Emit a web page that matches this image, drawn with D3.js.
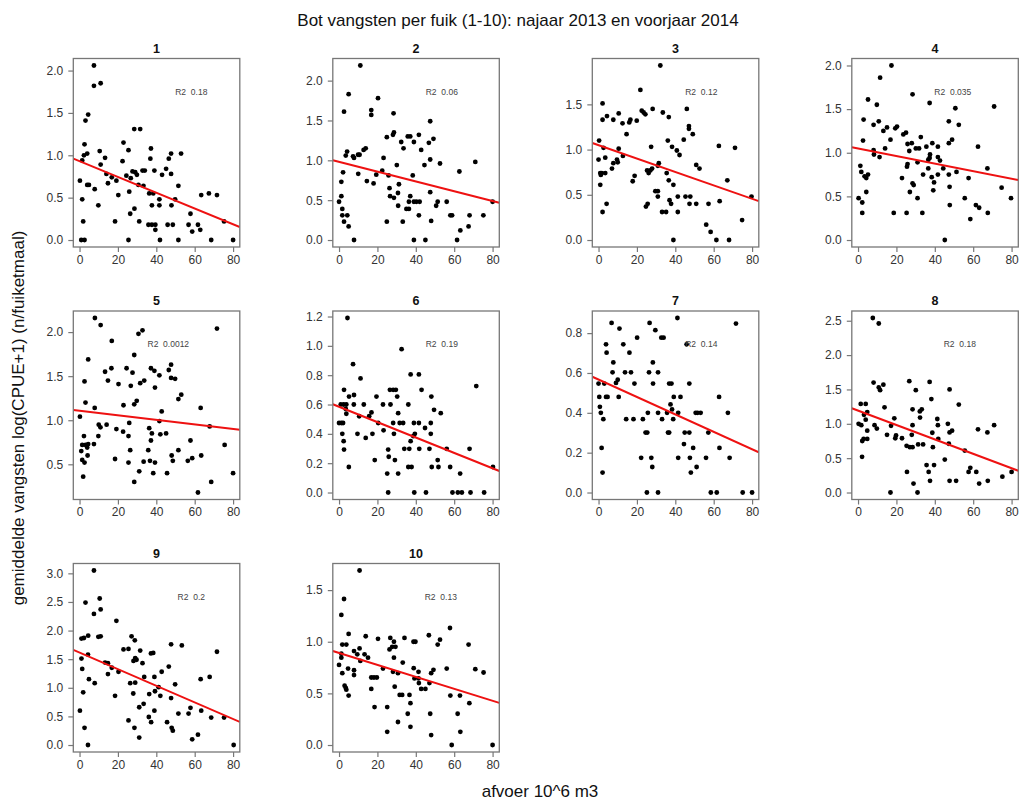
<!DOCTYPE html>
<html><head><meta charset="utf-8">
<script src="https://cdn.jsdelivr.net/npm/d3@7"></script>
<style>
html,body{margin:0;padding:0;background:#fff;}
text{font-family:"Liberation Sans",Arial,sans-serif;}
</style></head>
<body>
<svg id="chart" width="1019" height="803"></svg>
<script>
// ---------- DATA ----------
const fuikNames = ["1","2","3","4","5","6","7","8","9","10"];
const r2Labels = ["0.18","0.06","0.12","0.035","0.0012","0.19","0.14","0.18","0.2","0.13"];
const fitIntercepts = [0.93, 0.98, 1.048, 1.049, 1.107, 0.585, 0.567, 1.193, 1.615, 0.892];
const fitSlopes = [-0.0093, -0.00615, -0.0074, -0.00432, -0.00259, -0.00525, -0.00437, -0.0105, -0.0145, -0.0058];
const xTicks = [0, 20, 40, 60, 80];
const yTicks1 = [0, 0.5, 1.0, 1.5, 2.0];
const yTicks2 = [0, 0.5, 1.0, 1.5, 2.0];
const yTicks3 = [0, 0.5, 1.0, 1.5];
const yTicks4 = [0, 0.5, 1.0, 1.5, 2.0];
const yTicks5 = [0.5, 1.0, 1.5, 2.0];
const yTicks6 = [0, 0.2, 0.4, 0.6, 0.8, 1.0, 1.2];
const yTicks7 = [0, 0.2, 0.4, 0.6, 0.8];
const yTicks8 = [0, 0.5, 1.0, 1.5, 2.0, 2.5];
const yTicks9 = [0, 0.5, 1.0, 1.5, 2.0, 2.5, 3.0];
const yTicks10 = [0, 0.5, 1.0, 1.5];

const fuik1 = [[7.5,2.06],[7.5,1.82],[11,1.85],[4.5,1.48],[3.1,1.41],[2.6,1.13],[4,1.02],[2.3,1.0],[1.4,0.94],[10.5,1.05],[11,0.89],[13.3,0.97],[0.2,0.70],[4,0.65],[4.9,0.65],[7.9,0.60],[1.4,0.48],[9.8,0.41],[1.9,0.22],[0.9,0],[2.6,0],[14.8,0.67],[14,0.78],[16.8,0.74],[19.2,0.70],[20.2,0.53],[18.5,0.22],[22.9,1.15],[22.4,0.93],[25.5,1.06],[24.4,0.76],[25.9,0.57],[26.4,0.31],[25.5,0],[28.5,1.31],[31.6,1.31],[27.6,0.81],[29,0.80],[29.9,0.77],[26.7,0.73],[30.7,0.65],[28.6,0.37],[31.1,0.22],[32.8,0.82],[34,0.82],[33.3,0.64],[37.2,1.08],[36.9,0.96],[36.3,0.55],[38.4,0.55],[39,0.82],[37.7,0.41],[35.9,0.18],[37.7,0.18],[39.5,0.18],[39.5,0.12],[41.9,0],[41.6,0.41],[41.6,0.48],[43,0.77],[45.1,0.84],[46.5,0.96],[47.7,1.02],[47.7,0.78],[47.9,0.41],[45.9,0.18],[48.6,0.18],[49.8,0.48],[51.5,0.64],[52.9,1.02],[51.5,0],[57.8,0.31],[56.8,0.18],[58.7,0.10],[61.7,0.18],[62.9,0.12],[63.4,0.53],[67.4,0.55],[71.6,0.53],[68.6,0],[75.3,0.22],[80,0]];
const fuik2 = [[11.1,2.19],[5.0,1.83],[2.6,1.61],[20.3,1.78],[16.8,1.63],[16.8,1.57],[28.4,1.59],[4.2,1.11],[3.5,1.06],[7.3,1.05],[7.8,1.03],[9.9,1.07],[10.7,1.07],[12.8,1.13],[13.9,1.15],[2.1,0.85],[1.2,0.73],[1.2,0.55],[0,0.48],[1.7,0.39],[1.7,0.31],[4.3,0.31],[2.6,0.23],[5.0,0.17],[7.8,0],[10.0,0.83],[14.5,0.74],[18,0.71],[19.4,0.82],[23.2,1.03],[24.9,1.29],[28.1,1.32],[28.6,1.35],[22.5,0.87],[25.8,0.81],[30.1,0.94],[26.3,0.65],[26.6,0.55],[28.6,0.53],[24.9,0.23],[31.2,0.70],[30.7,0.59],[30.8,0.43],[32.4,1.23],[33.6,1.15],[33.2,0.23],[35.8,1.30],[37.1,1.30],[39,1.23],[41.6,1.32],[42.8,1.13],[38.4,0.81],[37.1,0.55],[36.4,0.48],[35.1,0.39],[36.4,0.39],[39.0,0.48],[40.3,0.48],[42.0,0.48],[41.6,0.31],[39.0,0],[45,0],[44.5,0.94],[46.8,1.22],[47.5,1.49],[49.2,1.27],[47.5,1.01],[47.5,0.60],[48.0,0.24],[50.6,0.43],[51.4,0.48],[52.6,0.96],[56.1,0.48],[58,0.31],[58.9,0.31],[62.7,0.86],[61.5,0],[63.2,0.12],[67.5,0.17],[68,0.31],[71,0.98],[75.2,0.31],[80,0.48]];
const fuik3 = [[32.2,1.93],[21.8,1.66],[2.1,1.51],[2.1,1.33],[4.4,1.37],[10.5,1.40],[7.7,1.33],[12.5,1.29],[14.6,1.17],[16,1.30],[16.6,1.33],[19.9,1.32],[22.5,1.43],[23.5,1.41],[24.4,1.39],[28.2,1.45],[33.5,1.41],[36.6,1.36],[0.3,1.10],[0,0.89],[0.9,0.74],[1.2,0.72],[1.7,0.74],[0.9,0.61],[3.5,0.91],[3.5,0.74],[2.6,1.02],[4.2,0.40],[2.1,0.31],[7.7,0.85],[7.0,0.79],[9.6,0.89],[10,0.86],[10.5,1.01],[12.7,0.93],[17.8,0.65],[18.8,0.71],[25.3,0.77],[26.1,0.74],[27,0.77],[27.9,0.79],[27.4,1.03],[25.6,0.40],[24.7,0.37],[29.6,0.54],[30.9,0.54],[30.9,0.48],[30.9,0.82],[31.4,0.85],[33.1,0.31],[35.2,0.31],[36.1,1.10],[35.5,0.74],[36.6,0.66],[37.0,0.44],[38.3,1.03],[39,0.61],[37.8,0.40],[39,0],[40.8,0.99],[42.2,0.94],[41.3,0.48],[41.3,0.31],[44.4,1.11],[46,1.45],[47.1,1.26],[47.1,1.23],[49.1,1.17],[45.3,0.48],[47.8,0.48],[47.4,0.40],[50.9,0.83],[52.6,0.79],[50.9,0.40],[56.1,0.17],[57.3,0.40],[58.4,0.09],[61.4,0],[62.7,1.04],[63.1,0.43],[67.1,0.66],[68,0],[71.1,1.02],[74.8,0.22],[79.7,0.48]];
const fuik4 = [[17.4,2.0],[11.5,1.86],[5.2,1.61],[9.8,1.55],[2.9,1.38],[10.8,1.36],[8.1,1.32],[13.2,1.25],[15.1,1.29],[19.4,1.28],[20.3,1.30],[2.6,1.14],[14.1,1.05],[16.9,1.15],[23.6,1.21],[25.0,1.23],[28.4,1.67],[25.8,1.10],[28,1.11],[26.7,1.02],[8.1,1.03],[8.3,0.98],[11.2,0.95],[32.7,1.18],[30.1,1.05],[31.8,1.05],[37.3,1.57],[35.6,1.07],[37.5,0.98],[37.3,0.94],[36.6,0.92],[38.7,1.11],[41.6,1.07],[41.6,0.95],[42.7,0.91],[44.4,0.82],[47.3,1.36],[47.3,1.11],[49,1.15],[50.7,1.51],[52.5,1.32],[51.3,0.78],[25.5,0.84],[25.8,0.87],[31,0.89],[36.6,0.82],[33.9,0.75],[38.4,0.72],[39.6,0.66],[41.6,0.75],[22.9,0.71],[28.4,0.65],[29,0.63],[27,0.55],[31,0.48],[39.2,0.57],[47.3,0.75],[47.7,0.61],[47.8,0.40],[0.3,0.48],[1.2,0.85],[1.7,0.78],[2.2,0.43],[2.2,0.31],[3.4,0.73],[4.3,0.71],[5.2,0.75],[4.3,0.55],[18.6,0.31],[25.3,0.31],[33.5,0.31],[45.2,0],[55.6,0.48],[57.6,0.71],[58.5,0.24],[61.4,0.40],[63.1,0.37],[62.5,1.07],[67.4,0.82],[67.6,0.31],[70.9,1.53],[74.8,0.60],[79.7,0.48]];
const fuik5 = [[8.0,2.16],[11,2.08],[30.7,1.98],[32.8,2.02],[71.6,2.04],[16.8,1.90],[4.5,1.69],[28.5,1.74],[13.3,1.55],[16.6,1.59],[24.5,1.59],[27.6,1.54],[2.6,1.44],[14.8,1.45],[20.3,1.41],[26.7,1.39],[31.6,1.42],[33.7,1.45],[37.2,1.59],[39.0,1.56],[41.6,1.51],[39.3,1.37],[47.7,1.63],[46.5,1.57],[47.7,1.48],[49.8,1.47],[53,1.29],[51.5,1.24],[28.5,1.18],[29.8,1.22],[22.9,1.17],[3.1,1.2],[7.9,1.14],[0.2,1.04],[10.0,0.95],[10.9,0.92],[14.1,0.95],[9.8,0.82],[2.3,0.82],[1.4,0.72],[0.9,0.65],[3.1,0.72],[4.5,0.73],[4.0,0.69],[7.5,0.73],[4.2,0.60],[1.4,0.55],[2.6,0.52],[1.9,0.36],[19.2,0.90],[22.7,0.87],[25.9,0.97],[25.5,0.82],[26.4,0.66],[25.5,0.52],[18.5,0.56],[28.5,0.30],[31.1,0.42],[33.4,0.53],[36.3,0.91],[37.7,0.85],[37.2,0.77],[35.8,0.66],[36.7,0.54],[39.3,0.52],[38.4,0.40],[42.1,0.84],[42.8,1.10],[41.6,0.99],[45.1,0.85],[45.6,0.40],[48.0,0.60],[48.6,0.54],[51.5,0.66],[56.4,0.54],[58.7,0.57],[57.8,0.77],[63.1,1.14],[63.4,0.60],[61.7,0.18],[67.8,0.93],[68.6,0.30],[75.6,0.72],[80,0.40]];
const fuik6 = [[4.4,1.19],[32.6,0.977],[7.3,0.875],[11.2,0.778],[2.6,0.70],[7.8,0.665],[5.2,0.654],[0.9,0.60],[2.4,0.60],[3.8,0.60],[7.7,0.60],[12.9,0.60],[3.5,0.57],[3.8,0.537],[0,0.474],[1.2,0.474],[2.1,0.474],[10.5,0.52],[15.7,0.52],[16.9,0.546],[1.7,0.40],[2.4,0.35],[2.6,0.293],[5.1,0.174],[9.6,0.40],[13.9,0.372],[17.4,0.40],[19.5,0.654],[20.4,0.474],[18.6,0.221],[22.9,0.60],[23.2,0.424],[26.5,0.70],[28.2,0.70],[29.6,0.70],[26.8,0.60],[30.3,0.654],[28.2,0.474],[28.6,0.40],[25.6,0.293],[25.9,0.244],[25.1,0.129],[29.1,0.221],[25.6,0],[30.8,0.541],[31.6,0.474],[33.4,0.474],[30.8,0.129],[34,0.298],[36.1,0.60],[37.3,0.805],[37.3,0.35],[36.6,0.298],[37.8,0.174],[36.1,0.174],[39,0.474],[39.5,0.40],[38.7,0.384],[39.2,0],[41.6,0.805],[43,0.70],[41.6,0.474],[41.8,0.298],[44.8,0.44],[45.3,0],[48.1,0.654],[47.8,0.474],[47.8,0.40],[47.1,0.298],[48.3,0.174],[49.5,0.564],[51.4,0.221],[51.8,0.174],[53.0,0.541],[56.1,0.298],[57.9,0.174],[59.1,0],[61.9,0],[63.1,0.129],[64,0],[68,0.298],[68.5,0],[71.5,0.726],[75.6,0],[80.2,0.174]];
const fuik7 = [[6.8,0.851],[10.9,0.823],[41.1,0.876],[26.6,0.851],[29.6,0.815],[32.7,0.777],[33.9,0.777],[20.1,0.777],[71.6,0.848],[45.9,0.744],[3.9,0.744],[12.9,0.744],[4.2,0.702],[16.1,0.702],[7.7,0.653],[28.3,0.653],[7.3,0.603],[13.8,0.603],[16.9,0.603],[26.3,0.603],[31,0.603],[10,0.566],[9.1,0.55],[0,0.547],[3,0.547],[18.7,0.547],[28.4,0.547],[36.8,0.547],[38,0.547],[47.3,0.547],[0.4,0.48],[3.9,0.48],[4.7,0.48],[10.5,0.48],[39.2,0.48],[42.7,0.48],[62.8,0.48],[0.7,0.43],[1.2,0.40],[2.5,0.368],[14.4,0.368],[18.2,0.368],[23.1,0.368],[25.7,0.40],[31,0.40],[33.1,0.368],[35.7,0.40],[37.5,0.442],[38.3,0.417],[38.9,0.368],[41.5,0.40],[50.6,0.40],[51.6,0.40],[53.2,0.40],[67.4,0.40],[24.5,0.301],[25.4,0.301],[36.2,0.301],[36.8,0.301],[44.9,0.301],[47.3,0.301],[44.5,0.243],[49.3,0.224],[63,0.224],[1.6,0.224],[22.2,0.174],[27.5,0.174],[41.5,0.174],[47.6,0.174],[56,0.174],[68.3,0.174],[28,0.128],[51.1,0.128],[2.1,0.10],[48.1,0.10],[57.2,0.301],[25.2,0],[31,0],[58.5,0],[61.6,0],[75.1,0],[80,0]];
const fuik8 = [[7.7,2.54],[10.8,2.46],[8.1,1.60],[13.2,1.57],[10.8,1.53],[11.5,1.49],[26.7,1.62],[30.1,1.49],[37.3,1.61],[47.7,1.50],[52.5,1.28],[38.2,1.36],[33.2,1.21],[32.2,1.18],[32.3,1.09],[28.4,1.21],[13.8,1.24],[1.4,1.29],[4.0,1.29],[4.8,1.17],[3.1,1.13],[4.0,1.06],[0.3,1.0],[1.7,0.98],[8.6,0.98],[4.8,0.90],[2.2,0.75],[2.9,0.78],[4.8,0.78],[2.1,0.52],[9.8,0.93],[18.9,1.08],[17.2,0.97],[15.1,0.84],[19.8,0.83],[19.4,0.79],[22.9,0.79],[28.4,0.98],[28,0.84],[25.3,0.68],[27,0.66],[28.4,0.66],[31.3,0.70],[33.9,0.70],[38.7,0.87],[39.0,0.66],[41.3,1.07],[41.6,0.98],[41.8,0.78],[46.8,1.0],[47.7,0.875],[49,0.90],[47.3,0.71],[45.2,0.48],[35.7,0.40],[39.6,0.40],[36.8,0.30],[25.5,0.30],[37.5,0.17],[47.7,0.17],[51.1,0.17],[28.9,0.13],[16.9,0],[31,0],[55.6,0.61],[57.6,0.30],[58.5,0.36],[61.6,0.30],[62.5,0.92],[63.1,0.13],[67.4,0.875],[67.6,0.17],[70.9,0.98],[75.2,0.23],[80,0.30]];
const fuik9 = [[7.5,3.05],[3.1,2.49],[10.5,2.56],[11,2.37],[7.5,2.29],[19.2,2.17],[1.0,1.86],[2.3,1.87],[4.5,1.91],[9.8,1.89],[11,1.90],[27.1,1.90],[28.8,1.83],[22.9,1.67],[25.5,1.68],[31.6,1.65],[4.4,1.58],[1.0,1.51],[1.4,1.33],[13.3,1.44],[14.8,1.43],[16.8,1.35],[14.8,1.24],[20.3,1.28],[29,1.52],[29.7,1.49],[28.1,1.47],[32.8,1.43],[37.2,1.60],[38.4,1.61],[33.7,1.19],[39,1.19],[42.8,1.28],[46.5,1.37],[47.7,1.76],[53.3,1.74],[71.6,1.63],[67.8,1.19],[63.1,1.15],[4.9,1.15],[7.9,1.08],[1.9,0.92],[0.2,0.60],[2.6,0.30],[4.4,0],[18.5,0.86],[26.4,1.08],[29,1.09],[28,0.90],[25.5,0.43],[28.6,0.30],[31.1,0.66],[33.4,0.72],[31.1,0.13],[36.3,0.89],[39.3,0.94],[41.2,1.01],[42.1,0.86],[39,0.60],[36.1,0.49],[37.3,0.40],[45.6,0.40],[47.7,0.82],[49.8,1.06],[48.0,0.30],[48.6,0.25],[51.5,0.55],[56.8,0.55],[57.8,0.65],[58.7,0.10],[61.7,0.18],[63.4,0.60],[68.6,0.48],[75.3,0.48],[80.3,0]];
const fuik10 = [[10.7,1.69],[2.6,1.414],[1.2,1.26],[5.0,1.076],[1.7,0.973],[3.8,0.973],[1.2,0.884],[1.2,0.846],[0,0.776],[1.7,0.696],[4.7,0.74],[2.9,0.575],[3.5,0.552],[3.8,0.536],[5.0,0.479],[7.8,0.91],[7.8,0.724],[7.8,0.677],[9.5,0.878],[10.7,0.935],[11.1,0.814],[13.3,0.878],[13.9,1.053],[15.1,0.846],[20.3,1.028],[16.8,0.654],[18.2,0.654],[19.7,0.654],[16.8,0.543],[18.5,0.367],[22.9,0.74],[26.7,1.037],[26.3,0.926],[27.7,0.951],[28.6,1.0],[29.4,0.951],[28.6,0.846],[28.1,0.709],[29,0.565],[30.7,0.696],[25.1,0.367],[25.1,0.128],[31.6,0.485],[32.9,0.485],[33.2,0.798],[34.1,1.037],[30.7,0.223],[36.7,0.485],[37.2,0.405],[35.8,0.303],[37.2,0.176],[38.8,1.0],[39.8,1.0],[38.9,0.744],[39.3,0.645],[41.4,0.709],[41.4,0.645],[41.6,0.60],[42.8,0.543],[45,0.543],[46.8,1.063],[48,0.696],[49.2,0.728],[47.1,0.60],[47.5,0.303],[48,0.096],[51.4,0.973],[52.6,1.02],[56.1,0.74],[57.8,1.133],[58,0.479],[58.7,0],[61.8,0.303],[63.2,0.128],[63,0.479],[67.5,0.973],[67.9,0.405],[71,0.734],[75.3,0.702],[80,0]];

const panelData = [fuik1,fuik2,fuik3,fuik4,fuik5,fuik6,fuik7,fuik8,fuik9,fuik10];
const panelTicks = [yTicks1,yTicks2,yTicks3,yTicks4,yTicks5,yTicks6,yTicks7,yTicks8,yTicks9,yTicks10];

// ---------- LAYOUT ----------
const boxW = 166.5, boxH = 188.5;
const colStep = 259.5, rowStep = 252.5, left0 = 73.3, top0 = 58.5;
const xlim = [-3.25, 83.5];
const r2LabelX = [118,109,109,101,95,109,109,108,118,108];

const svg = d3.select("#chart");

svg.append("text").attr("x", 518).attr("y", 26).attr("text-anchor","middle")
  .attr("font-size", 17).attr("fill","#111")
  .text("Bot vangsten per fuik (1-10): najaar 2013 en voorjaar 2014");
svg.append("text").attr("x", 540).attr("y", 797).attr("text-anchor","middle")
  .attr("font-size", 17).attr("fill","#111").text("afvoer 10^6 m3");
svg.append("text").attr("transform","translate(24,418) rotate(-90)").attr("text-anchor","middle")
  .attr("font-size", 17).attr("fill","#111").text("gemiddelde vangsten log(CPUE+1) (n/fuiketmaal)");

panelData.forEach((data, i) => {
  const col = i % 4, row = Math.floor(i / 4);
  const g = svg.append("g").attr("transform", `translate(${left0 + col*colStep},${top0 + row*rowStep})`);
  const x = d3.scaleLinear().domain(xlim).range([0, boxW]);
  const ext = d3.extent(data, d => d[1]);
  const pad = (ext[1] - ext[0]) * 0.04;
  const y = d3.scaleLinear().domain([ext[0] - pad, ext[1] + pad]).range([boxH, 0]);

  const clipId = "clip" + i;
  g.append("clipPath").attr("id", clipId).append("rect").attr("width", boxW).attr("height", boxH);

  g.append("g").selectAll("circle").data(data).join("circle")
    .attr("cx", d => x(d[0])).attr("cy", d => y(d[1])).attr("r", 2.4).attr("fill", "#000");

  const a = fitIntercepts[i], b = fitSlopes[i];
  g.append("line").attr("clip-path", `url(#${clipId})`)
    .attr("x1", x(xlim[0])).attr("y1", y(a + b*xlim[0]))
    .attr("x2", x(xlim[1])).attr("y2", y(a + b*xlim[1]))
    .attr("stroke", "#ee1111").attr("stroke-width", 2);

  g.append("rect").attr("width", boxW).attr("height", boxH)
    .attr("fill","none").attr("stroke","#777").attr("stroke-width",1.3);

  const ya = g.append("g").call(d3.axisLeft(y).tickValues(panelTicks[i]).tickFormat(d3.format(".1f")).tickSize(5).tickPadding(5).tickSizeOuter(0));
  const xa = g.append("g").attr("transform", `translate(0,${boxH})`)
    .call(d3.axisBottom(x).tickValues(xTicks).tickFormat(d3.format("d")).tickSize(5).tickPadding(3).tickSizeOuter(0));
  [ya, xa].forEach(ax => {
    ax.select(".domain").remove();
    ax.selectAll(".tick line").attr("stroke","#777").attr("stroke-width",1.2);
    ax.selectAll(".tick text").attr("font-size", 12).attr("fill","#333")
      .attr("font-family", '"Liberation Sans",Arial,sans-serif');
  });

  g.append("text").attr("x", boxW/2).attr("y", -6).attr("text-anchor","middle")
    .attr("font-size", 12.5).attr("font-weight","bold").attr("fill","#111").text(fuikNames[i]);

  g.append("text").attr("x", r2LabelX[i]).attr("y", 36).attr("text-anchor","middle")
    .attr("font-size", 8.5).attr("fill","#444").style("white-space","pre")
    .text("R2  " + r2Labels[i]);
});
</script>
</body></html>
